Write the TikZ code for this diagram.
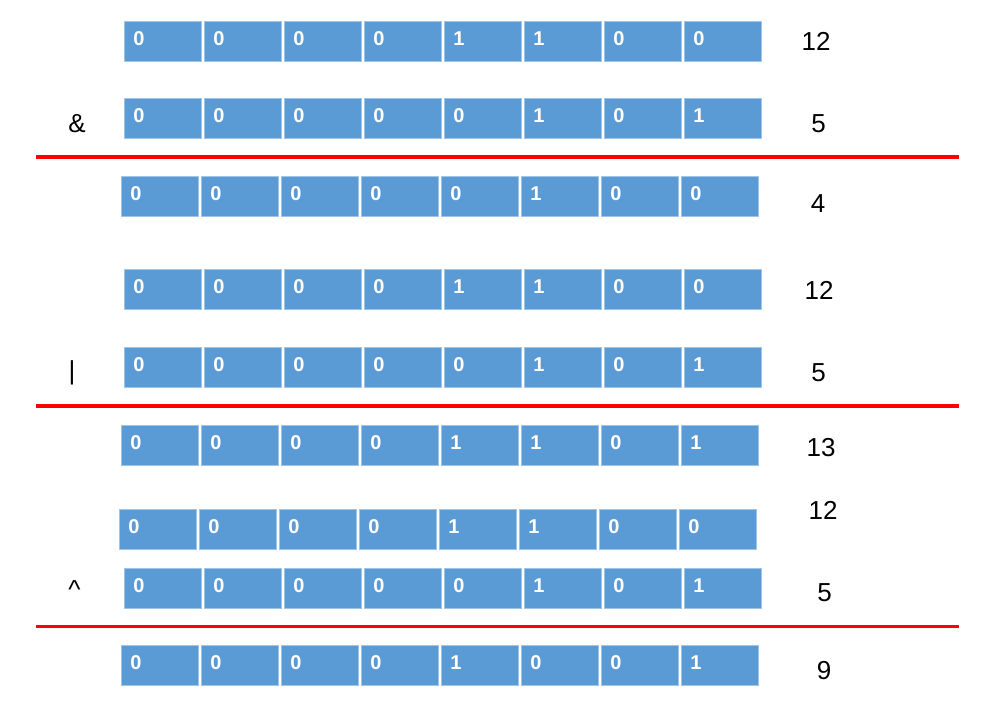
\documentclass[tikz,border=0pt]{standalone}
\usepackage{fontspec}
\setmainfont{Liberation Sans}
\usepackage{xcolor}
\usepackage{tikz}
\usetikzlibrary{positioning}

\definecolor{cellblue}{RGB}{91,155,213}
\definecolor{celledge}{RGB}{160,196,230}

% one row of eight bits: name, left x, top y, bits
\newcommand{\bitrow}[4]{%
  \foreach \b [count=\c] in {#4} {%
    \node[cell] (#1-\c) at ({#2+80*\c-41},{#3+20.5}) {\b};
  }%
}

\begin{document}
\begin{tikzpicture}[x=1pt, y=-1pt,
    cell/.style={rectangle, fill=cellblue, draw=celledge, line width=0.8pt,
                 minimum height=40.2pt, inner xsep=9pt, text width=59.5pt,
                 align=left, text height=14.3pt, text depth=6.4pt,
                 text=white, font=\fontsize{20}{24}\selectfont\bfseries},
    val/.style={anchor=base, inner sep=0pt, font=\fontsize{26}{30}\selectfont},
    redline/.style={draw=red, line width=3.6pt}
  ]
  \useasboundingbox (0,0) rectangle (984,704);

  %% ── AND ─────────────────────────────────────────────────────────────
  \bitrow{andx}{124}{21}{0,0,0,0,1,1,0,0}
  \bitrow{andy}{124}{98}{0,0,0,0,0,1,0,1}
  \bitrow{andz}{121}{176}{0,0,0,0,0,1,0,0}
  \node[val] (opand) at (77,132)    {\&};
  \node[val] (vandx) at (816,50.7)  {12};
  \node[val] (vandy) at (818.5,132) {5};
  \node[val] (vandz) at (818,212)   {4};
  \draw[redline] (36,157) -- (959,157);

  %% ── OR ──────────────────────────────────────────────────────────────
  \bitrow{orx}{124}{269}{0,0,0,0,1,1,0,0}
  \bitrow{ory}{124}{347}{0,0,0,0,0,1,0,1}
  \bitrow{orz}{121}{425}{0,0,0,0,1,1,0,1}
  \node[val] (opor) at (72,379.5)   {\textbar};
  \node[val] (vorx) at (819,299)    {12};
  \node[val] (vory) at (818.5,381)  {5};
  \node[val] (vorz) at (821,456)    {13};
  \draw[redline] (36,406) -- (959,406);

  %% ── XOR ─────────────────────────────────────────────────────────────
  \bitrow{xorx}{119}{509}{0,0,0,0,1,1,0,0}
  \bitrow{xory}{124}{568}{0,0,0,0,0,1,0,1}
  \bitrow{xorz}{121}{645}{0,0,0,0,1,0,0,1}
  \node[val] (opxor) at (74.5,598.5) {\textasciicircum};
  \node[val] (vxorx) at (823,519)    {12};
  \node[val] (vxory) at (824.5,601)  {5};
  \node[val] (vxorz) at (824,679)    {9};
  \draw[redline] (36,626.5) -- (959,626.5);

\end{tikzpicture}
\end{document}
